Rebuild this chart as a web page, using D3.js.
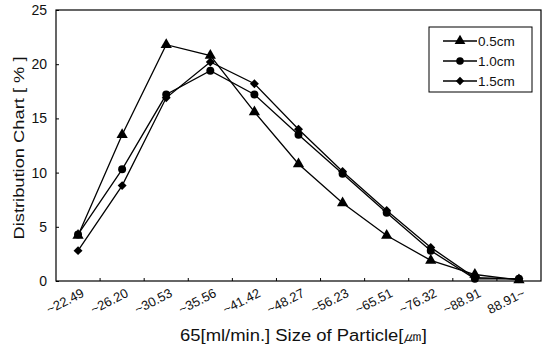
<!DOCTYPE html>
<html>
<head>
<meta charset="utf-8">
<script src="https://cdn.jsdelivr.net/npm/d3@7"></script>
<style>
  body { margin: 0; background: #fff; }
  svg { display: block; font-family: "Liberation Sans", Arial, sans-serif; }
</style>
</head>
<body>
<svg></svg>
<script>
const categories = ["~22.49", "~26.20", "~30.53", "~35.56", "~41.42", "~48.27",
  "~56.23", "~65.51", "~76.32", "~88.91", "88.91~"];
const s05 = [4.2, 13.5, 21.8, 20.8, 15.6, 10.8, 7.2, 4.2, 1.9, 0.6, 0.1];
const s10 = [4.3, 10.3, 17.2, 19.4, 17.2, 13.5, 9.9, 6.3, 2.8, 0.2, 0.2];
const s15 = [2.8, 8.8, 16.9, 20.2, 18.2, 14.0, 10.1, 6.5, 3.1, 0.3, 0.2];
const yTicks = [0, 5, 10, 15, 20, 25];

// squat diamond like the original marker
const diamond = {
  draw(ctx, size) {
    const r = Math.sqrt(size / 2);
    ctx.moveTo(0, -r); ctx.lineTo(r, 0); ctx.lineTo(0, r); ctx.lineTo(-r, 0); ctx.closePath();
  }
};

const series = [
  { name: "0.5cm", values: s05, shape: d3.symbolTriangle, size: 55 },
  { name: "1.0cm", values: s10, shape: d3.symbolCircle, size: 50 },
  { name: "1.5cm", values: s15, shape: diamond, size: 40 }
];

const W = 547, H = 348;
const margin = { top: 10, right: 6, bottom: 67, left: 56 };
const width = W - margin.left - margin.right;
const height = H - margin.top - margin.bottom;

const svg = d3.select("svg").attr("width", W).attr("height", H);
const g = svg.append("g").attr("transform", `translate(${margin.left},${margin.top})`);

const x = d3.scaleBand().domain(categories).range([0, width]);
const y = d3.scaleLinear().domain([0, 25]).range([height, 0]);

// frame
g.append("rect")
  .attr("x", 0).attr("y", 0).attr("width", width).attr("height", height)
  .attr("fill", "none").attr("stroke", "#000").attr("stroke-width", 1.2);

// y axis
const yAxis = g.append("g")
  .call(d3.axisLeft(y).tickValues(yTicks).tickSize(-3).tickPadding(9));
yAxis.select(".domain").remove();
yAxis.selectAll("text").attr("font-size", 14).attr("fill", "#111");

// x axis ticks at category boundaries
const bounds = categories.slice(1).map(c => x(c));
g.selectAll(".xtick").data(bounds).join("line")
  .attr("class", "xtick")
  .attr("x1", d => d).attr("x2", d => d)
  .attr("y1", height).attr("y2", height - 3)
  .attr("stroke", "#000");

g.selectAll(".xlab").data(categories).join("text")
  .attr("class", "xlab")
  .attr("text-anchor", "end")
  .attr("font-size", 13)
  .attr("fill", "#111")
  .attr("transform", d => `translate(${x(d) + x.bandwidth() / 2 + 7},${height + 15}) rotate(-27)`)
  .text(d => d);

// axis titles
svg.append("text")
  .attr("text-anchor", "middle")
  .attr("font-size", 15.5)
  .attr("fill", "#111")
  .attr("textLength", 183)
  .attr("lengthAdjust", "spacingAndGlyphs")
  .attr("transform", `translate(24,148) rotate(-90)`)
  .text("Distribution Chart [ % ]");

svg.append("text")
  .attr("x", 180).attr("y", 341)
  .attr("font-size", 16)
  .attr("fill", "#111")
  .attr("textLength", 247)
  .attr("lengthAdjust", "spacingAndGlyphs")
  .text("65[ml/min.]  Size of Particle[㎛]");

// lines and markers
const line = d3.line()
  .x((d, i) => x(categories[i]) + x.bandwidth() / 2)
  .y(d => y(d));

series.forEach(s => {
  g.append("path")
    .attr("d", line(s.values))
    .attr("fill", "none")
    .attr("stroke", "#000")
    .attr("stroke-width", 1.3);
  g.selectAll(null).data(s.values).join("path")
    .attr("transform", (d, i) => `translate(${x(categories[i]) + x.bandwidth() / 2},${y(d)})`)
    .attr("d", d3.symbol().type(s.shape).size(s.size))
    .attr("fill", "#000");
});

// legend
const lg = svg.append("g").attr("transform", "translate(429,27)");
lg.append("rect")
  .attr("width", 103).attr("height", 65)
  .attr("fill", "#fff").attr("stroke", "#000").attr("stroke-width", 1);
series.forEach((s, i) => {
  const yy = 14 + i * 20;
  lg.append("line")
    .attr("x1", 14).attr("x2", 48).attr("y1", yy).attr("y2", yy)
    .attr("stroke", "#000").attr("stroke-width", 1.3);
  lg.append("path")
    .attr("transform", `translate(31,${yy})`)
    .attr("d", d3.symbol().type(s.shape).size(s.size - 5))
    .attr("fill", "#000");
  lg.append("text")
    .attr("x", 49).attr("y", yy + 4.5)
    .attr("font-size", 13.5)
    .attr("fill", "#111")
    .text(s.name);
});
</script>
</body>
</html>
